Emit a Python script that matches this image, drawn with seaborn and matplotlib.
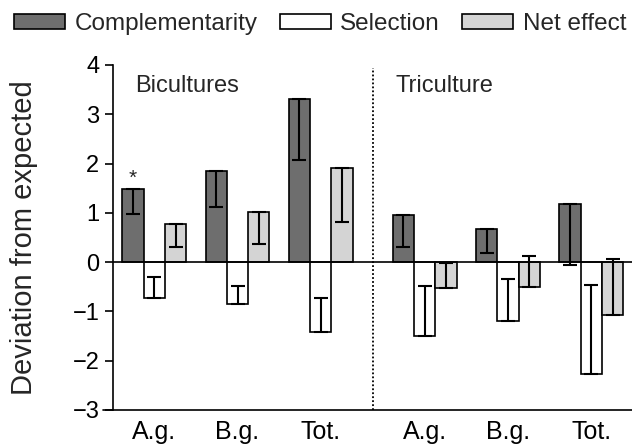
import numpy as np
import pandas as pd
import matplotlib
matplotlib.use("Agg")
import matplotlib.pyplot as plt
from matplotlib.patches import Patch
import seaborn as sns

# ── Data ──────────────────────────────────────────────────────────────────────
groups    = ["A.g.", "B.g.", "Tot.", "A.g.", "B.g.", "Tot."]
positions = [0, 1, 2, 3.25, 4.25, 5.25]
effects   = ["Complementarity", "Selection", "Net effect"]

comp_vals = [1.48, 1.85, 3.31, 0.95, 0.68, 1.18]
sel_vals  = [-0.72, -0.84, -1.41, -1.49, -1.20, -2.26]
net_vals  = [0.78, 1.01, 1.90, -0.53, -0.50, -1.07]

# error lengths, drawn towards zero only
comp_err = [0.51, 0.74, 1.23, 0.64, 0.50, 1.24]
sel_err  = [0.41, 0.36, 0.69, 1.00, 0.86, 1.79]
net_err  = [0.48, 0.65, 1.09, 0.52, 0.62, 1.13]

colors = {"Complementarity": "#6e6e6e", "Selection": "#ffffff",
          "Net effect": "#d4d4d4"}

df = pd.DataFrame({
    "pos":    positions * 3,
    "effect": np.repeat(effects, len(positions)),
    "value":  comp_vals + sel_vals + net_vals,
})
errs = {"Complementarity": comp_err, "Selection": sel_err, "Net effect": net_err}

# ── Figure ────────────────────────────────────────────────────────────────────
sns.set_style("ticks")
plt.rcParams["font.family"] = ["Liberation Sans", "DejaVu Sans"]

fig = plt.figure(figsize=(6.32, 4.45), dpi=100)
ax = fig.add_axes([0.1783, 0.0787, 0.8217, 0.7753])

sns.barplot(data=df, x="pos", y="value", hue="effect", hue_order=effects,
            palette=colors, native_scale=True, width=0.768, errorbar=None,
            edgecolor="black", linewidth=1.2, legend=False, ax=ax, zorder=2)

# one-sided error bars from each bar end towards zero
for cont, eff in zip(ax.containers, effects):
    xs = [b.get_x() + b.get_width() / 2 for b in cont]
    vals = np.array(df.loc[df["effect"] == eff, "value"])
    e = np.array(errs[eff])
    lo = np.where(vals > 0, e, 0)
    hi = np.where(vals < 0, e, 0)
    ax.errorbar(xs, vals, yerr=[lo, hi], fmt="none", ecolor="black",
                elinewidth=1.5, capsize=4.8, capthick=1.5, zorder=3)

# significance star on the biculture A.g. complementarity bar
first = ax.containers[0][0]
ax.text(first.get_x() + first.get_width() / 2, comp_vals[0] + 0.1, "*",
        ha="center", va="baseline", fontsize=15)

ax.axhline(0, color="black", lw=1.2, zorder=4)
sep = (positions[2] + positions[3]) / 2
ax.vlines(sep, -3, 3.93, colors="black", linestyles=(0, (1, 1.2)), lw=1.3)

ax.text(-0.23, 3.46, "Bicultures", fontsize=17, va="baseline")
ax.text(2.9, 3.45, "Triculture", fontsize=17, va="baseline")

ax.set_xlim(-0.5, 5.74)
ax.set_ylim(-3, 4)
ax.set_yticks(range(-3, 5))
ax.set_xticks(positions)
ax.set_xticklabels(groups)
ax.set_xlabel("")
ax.set_ylabel("Deviation from expected", fontsize=21)
ax.yaxis.set_label_coords(-0.144, 0.5)

ax.tick_params(axis="y", length=6, width=1.2, pad=3.5, labelsize=17,
               color="black", labelcolor="black")
ax.tick_params(axis="x", length=0, pad=7, labelsize=18, labelcolor="black")

for s in ["top", "right", "bottom"]:
    ax.spines[s].set_visible(False)
ax.spines["left"].set_linewidth(1.2)
ax.spines["left"].set_color("black")
ax.plot([-0.019, 1], [0, 0], transform=ax.transAxes, color="black",
        lw=1.2, clip_on=False)

handles = [Patch(facecolor=colors[e], edgecolor="black", linewidth=1.2)
           for e in effects]
fig.legend(handles, effects, loc="center left", ncol=3, frameon=False,
           bbox_to_anchor=(0.022, 1 - 24 / 445), fontsize=17.5,
           handlelength=2.1, handleheight=0.6, handletextpad=0.4,
           columnspacing=0.9, borderpad=0, borderaxespad=0)

fig.savefig("out.png", dpi=100)
plt.close(fig)
